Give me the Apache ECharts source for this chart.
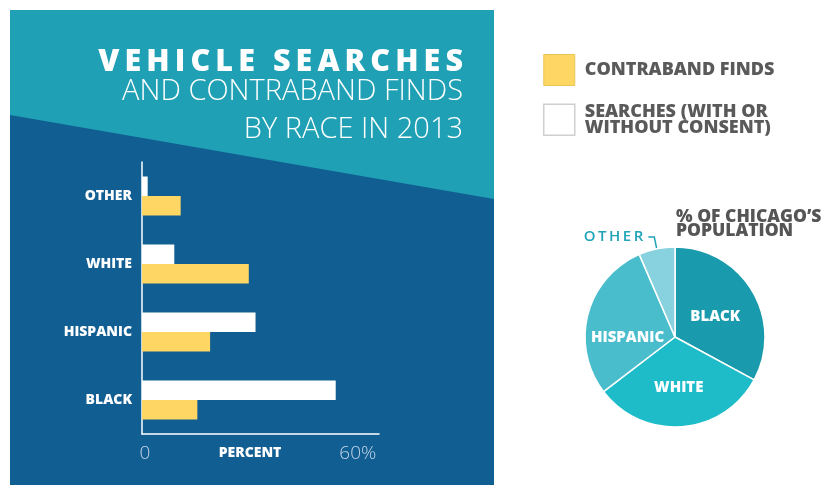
<!DOCTYPE html>
<html>
<head>
<meta charset="utf-8">
<script src="https://cdn.jsdelivr.net/npm/echarts@6/dist/echarts.min.js"></script>
<style>
html,body{margin:0;padding:0;background:#fff;}
#chart{width:833px;height:485px;}
</style>
</head>
<body>
<div id="chart"></div>
<script>
// ---- data ----
var categories = ['OTHER', 'WHITE', 'HISPANIC', 'BLACK'];
var searchesPct = [1.6, 9.1, 32.0, 54.6];
var contrabandPct = [10.9, 30.1, 19.2, 15.6];
var xTickLabels = {0: '0', 60: '60%'};
var pieNames = ['BLACK', 'WHITE', 'HISPANIC', 'OTHER'];
var pieValues = [32.9, 31.7, 28.9, 6.5];
var seriesNames = ['SEARCHES (WITH OR\nWITHOUT CONSENT)', 'CONTRABAND FINDS'];

var pieColors = ['#1a9aad', '#1dbcc8', '#4abdcc', '#88d1de'];
var pieLabelShift = {BLACK: [-1, 4], WHITE: [0, 3], HISPANIC: [-1, 13], OTHER: [0, 0]};
var font = '"Open Sans", "Noto Sans", sans-serif';

function spaced(s, sp) { return s.split('').join(sp); }

var chart = echarts.init(document.getElementById('chart'));

var pieData = pieNames.map(function (n, i) {
  var d = { name: n, value: pieValues[i], itemStyle: { color: pieColors[i] } };
  if (n === 'OTHER') {
    d.label = { position: 'outside', color: '#1fa3b8', fontSize: 15, fontWeight: 600,
      formatter: function (p) { return spaced(p.name, '\u2006'); } };
    d.labelLine = { show: true, length: 12, length2: 6, lineStyle: { color: '#1fa3b8', width: 1.5 } };
  }
  return d;
});

var option = {
  animation: false,
  graphic: [
    { type: 'rect', shape: { x: 10, y: 10, width: 484, height: 480 }, style: { fill: '#1fa0b4' }, z: -10 },
    { type: 'polygon', shape: { points: [[10, 115], [494, 199], [494, 490], [10, 490]] }, style: { fill: '#115e92' }, z: -9 },
    { type: 'text', x: 463, y: 78, style: { text: spaced('VEHICLE SEARCHES', '\u2009'), fill: '#fff', font: '800 30.5px ' + font, textAlign: 'right', textVerticalAlign: 'bottom' } },
    { type: 'text', x: 463, y: 106.5, style: { text: 'AND CONTRABAND FINDS', fill: '#fff', font: '300 29px ' + font, textAlign: 'right', textVerticalAlign: 'bottom' } },
    { type: 'text', x: 463, y: 144.5, style: { text: 'BY RACE IN 2013', fill: '#fff', font: '300 29px ' + font, textAlign: 'right', textVerticalAlign: 'bottom' } },
    { type: 'text', x: 250, y: 453, style: { text: 'PERCENT', fill: '#fff', font: '800 14px ' + font, textAlign: 'center', textVerticalAlign: 'middle' } },
    { type: 'text', x: 676, y: 224, style: { text: '% OF CHICAGO\u2019S\nPOPULATION', fill: '#555', font: '800 17.5px ' + font, lineHeight: 14.5, textAlign: 'left', textVerticalAlign: 'middle' } }
  ],
  legend: {
    orient: 'vertical',
    left: 543,
    top: 54,
    itemWidth: 31,
    itemHeight: 31,
    itemGap: 17,
    padding: 0,
    icon: 'rect',
    selectedMode: false,
    textStyle: { color: '#5a5a5a', fontSize: 18, fontWeight: 800, fontFamily: font, lineHeight: 15.5, padding: [0, 0, 0, 5] },
    data: [
      { name: seriesNames[1], itemStyle: { borderColor: '#e9c653', borderWidth: 1 } },
      { name: seriesNames[0], itemStyle: { borderColor: '#cfcfcf', borderWidth: 1.5 } }
    ]
  },
  grid: { left: 142, right: 454, top: 162, bottom: 51, containLabel: false },
  xAxis: {
    type: 'value',
    min: 0,
    max: 66.8,
    interval: 60,
    splitLine: { show: false },
    axisTick: { show: false },
    axisLine: { show: true, lineStyle: { color: '#fff', width: 1.5 } },
    axisLabel: {
      margin: 10,
      color: '#c3d4e6',
      fontSize: 19,
      fontWeight: 300,
      fontFamily: font,
      padding: [0, 0, 0, 6],
      formatter: function (v) { return xTickLabels[v] !== undefined ? xTickLabels[v] : ''; }
    }
  },
  yAxis: {
    type: 'category',
    inverse: true,
    data: categories,
    axisTick: { show: false },
    axisLine: { show: true, lineStyle: { color: '#fff', width: 1.5 } },
    axisLabel: { margin: 10, color: '#fff', fontSize: 14, fontWeight: 800, fontFamily: font }
  },
  series: [
    { name: seriesNames[0], type: 'bar', data: searchesPct, barWidth: 19.5, barGap: '0%', itemStyle: { color: '#ffffff' } },
    { name: seriesNames[1], type: 'bar', data: contrabandPct, barWidth: 19.5, barGap: '0%', itemStyle: { color: '#fdd663' } },
    {
      type: 'pie',
      center: [675, 337],
      radius: 90,
      startAngle: 90,
      clockwise: true,
      avoidLabelOverlap: false,
      itemStyle: { borderColor: '#fff', borderWidth: 1.5 },
      label: { show: true, position: 'inside', color: '#fff', fontSize: 15, fontWeight: 800, fontFamily: font },
      labelLine: { show: false },
      labelLayout: function (p) {
        var s = pieLabelShift[pieNames[p.dataIndex]] || [0, 0];
        return { dx: s[0], dy: s[1] };
      },
      data: pieData
    }
  ]
};
chart.setOption(option);
</script>
</body>
</html>
